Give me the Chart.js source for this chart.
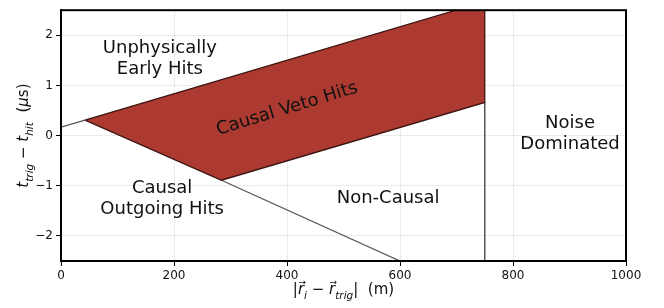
<!DOCTYPE html>
<html>
<head>
<meta charset="utf-8">
<script src="https://cdn.jsdelivr.net/npm/chart.js@4.4.0/dist/chart.umd.min.js"></script>
<style>
  html, body { margin: 0; padding: 0; background: #fff; }
  #wrap { width: 664px; height: 308px; }
</style>
</head>
<body>
<div id="wrap"><canvas id="chart"></canvas></div>
<script>
// axis ticks
const xTicks = [0, 200, 400, 600, 800, 1000];
const yTicks = [-2, -1, 0, 1, 2];

// causal veto region (closed polygon)
const vetoX = [42.5, 699, 750, 750, 284, 42.5];
const vetoY = [0.31, 2.5, 2.5, 0.66, -0.89, 0.31];

// boundary lines outside the veto region
const earlyX = [0, 42.5];
const earlyY = [0.17, 0.31];
const outgoingX = [284, 600];
const outgoingY = [-0.89, -2.5];
const noiseX = [750, 750];
const noiseY = [-2.5, 0.66];

// region names
const regionNames = [
    ['Unphysically', 'Early Hits'],
    ['Causal Veto Hits'],
    ['Noise', 'Dominated'],
    ['Non-Causal'],
    ['Causal', 'Outgoing Hits']
];

const zip = (xs, ys) => xs.map((x, i) => ({x: x, y: ys[i]}));

// where each name sits, in data units
const regionAt = [
    {x: 175, y: 1.53, rot: 0},
    {x: 400, y: 0.53, rot: -17},
    {x: 901, y: 0.04, rot: 0},
    {x: 579, y: -1.26, rot: 0},
    {x: 179, y: -1.27, rot: 0}
];

const FONT = "'DejaVu Sans', sans-serif";

function drawRich(ctx, segs, size) {
    // measure then draw centred at 0,0 baseline
    var parts = segs.map(s => {
        var fs = s.sub ? size * 0.7 : size;
        var f = (s.it ? 'italic ' : '') + fs + 'px ' + FONT;
        ctx.font = f;
        return {s: s, f: f, w: ctx.measureText(s.t).width};
    });
    var total = parts.reduce((a, p) => a + p.w, 0);
    var x = -total / 2;
    ctx.textAlign = 'left';
    ctx.textBaseline = 'alphabetic';
    for (var p of parts) {
        ctx.font = p.f;
        var dy = p.s.sub ? size * 0.3 : 0;
        ctx.fillText(p.s.t, x, dy);
        if (p.s.vec) {
            ctx.font = (size * 0.6) + 'px ' + FONT;
            ctx.fillText('\u2192', x + 0.5, -size * 0.62);
        }
        x += p.w;
    }
}

const xTitle = [
    {t: '|'}, {t: 'r', it: true, vec: true}, {t: 'i', it: true, sub: true},
    {t: ' \u2212 '}, {t: 'r', it: true, vec: true}, {t: 'trig', it: true, sub: true},
    {t: '|'}, {t: '  (m)'}
];
const yTitle = [
    {t: 't', it: true}, {t: 'trig', it: true, sub: true}, {t: ' \u2212 '},
    {t: 't', it: true}, {t: 'hit', it: true, sub: true}, {t: '  ('},
    {t: '\u03bc', it: true}, {t: 's)'}
];

const decorPlugin = {
    id: 'decor',
    afterDraw(chart) {
        var ctx = chart.ctx;
        var a = chart.chartArea;
        var xs = chart.scales.x, ys = chart.scales.y;
        ctx.save();
        // frame
        ctx.strokeStyle = '#000';
        ctx.lineWidth = 2;
        ctx.strokeRect(a.left, a.top, a.right - a.left, a.bottom - a.top);

        // region names
        ctx.fillStyle = '#111';
        ctx.font = '18px ' + FONT;
        ctx.textAlign = 'center';
        ctx.textBaseline = 'middle';
        regionNames.forEach((lines, i) => {
            var at = regionAt[i];
            ctx.save();
            ctx.translate(xs.getPixelForValue(at.x), ys.getPixelForValue(at.y));
            ctx.rotate(at.rot * Math.PI / 180);
            var lh = 21;
            lines.forEach((t, j) => {
                ctx.fillText(t, 0, (j - (lines.length - 1) / 2) * lh);
            });
            ctx.restore();
        });

        // axis titles
        ctx.fillStyle = '#111';
        ctx.save();
        ctx.translate((a.left + a.right) / 2, 294);
        drawRich(ctx, xTitle, 15);
        ctx.restore();
        ctx.save();
        ctx.translate(28, (a.top + a.bottom) / 2);
        ctx.rotate(-Math.PI / 2);
        drawRich(ctx, yTitle, 15);
        ctx.restore();
        ctx.restore();
    }
};

const gridColor = 'rgba(176,176,176,0.25)';

function scaleOpts(min, max, tickVals) {
    return {
        type: 'linear',
        min: min,
        max: max,
        z: 1,
        afterBuildTicks: s => { s.ticks = tickVals.map(v => ({value: v})); },
        grid: {color: gridColor, tickColor: '#000', tickLength: 5, lineWidth: 1},
        border: {color: '#000', width: 2},
        ticks: {
            color: '#111',
            font: {family: FONT, size: 12},
            padding: 3,
            maxRotation: 0,
            callback: v => String(v).replace('-', '\u2212')
        }
    };
}

const xScale = scaleOpts(0, 1000, xTicks);
xScale.afterFit = s => { s.height = 47; };
const yScale = scaleOpts(-2.5, 2.5, yTicks);
yScale.afterFit = s => { s.width = 61; };

const lineStyle = {showLine: true, pointRadius: 0, tension: 0, fill: false};

new Chart('chart', {
    type: 'scatter',
    data: {
        datasets: [
            Object.assign({}, lineStyle, {
                data: zip(vetoX, vetoY),
                fill: 'shape',
                backgroundColor: '#ad3a30',
                borderColor: '#3a1410',
                borderWidth: 1.3
            }),
            Object.assign({}, lineStyle, {data: zip(earlyX, earlyY), borderColor: '#555', borderWidth: 1.3}),
            Object.assign({}, lineStyle, {data: zip(outgoingX, outgoingY), borderColor: '#555', borderWidth: 1.3}),
            Object.assign({}, lineStyle, {data: zip(noiseX, noiseY), borderColor: '#555', borderWidth: 1.5})
        ]
    },
    options: {
        responsive: true,
        maintainAspectRatio: false,
        animation: false,
        layout: {padding: {left: 0, top: 8, right: 38, bottom: 0}},
        plugins: {legend: {display: false}, tooltip: {enabled: false}},
        scales: {x: xScale, y: yScale}
    },
    plugins: [decorPlugin]
});
</script>
</body>
</html>
